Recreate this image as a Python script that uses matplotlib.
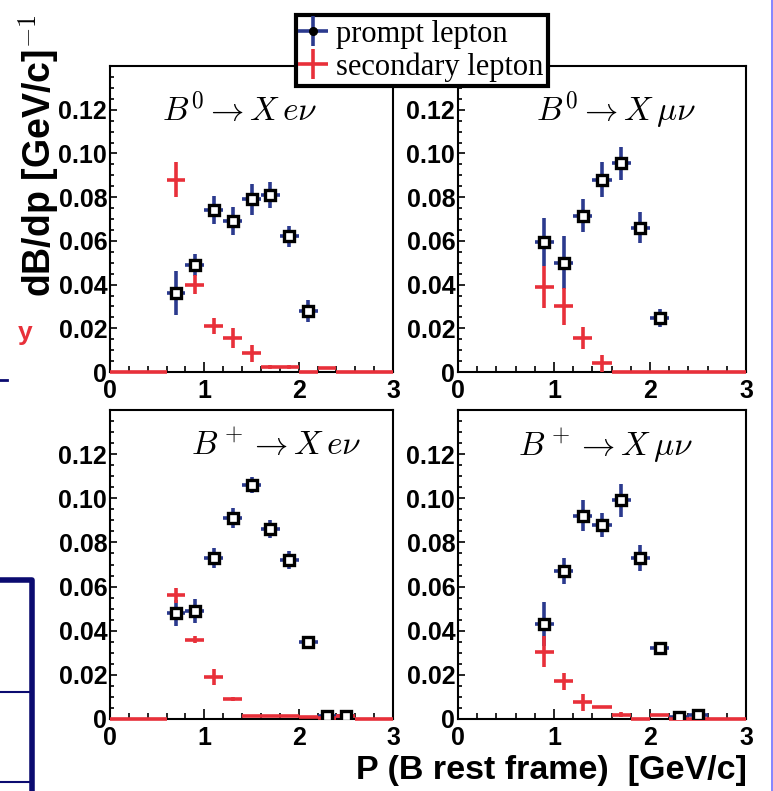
import matplotlib
matplotlib.use("Agg")
import matplotlib.pyplot as plt
from matplotlib.lines import Line2D
from matplotlib.legend_handler import HandlerTuple
from matplotlib.ticker import MultipleLocator

plt.rcParams["mathtext.fontset"] = "cm"

# ---- data ----
titles = [r"$B^0 \rightarrow X\,e\nu$", r"$B^0 \rightarrow X\,\mu\nu$",
          r"$B^+ \rightarrow X\,e\nu$", r"$B^+ \rightarrow X\,\mu\nu$"]

# B0 -> X e nu
p1_x = [0.7, 0.9, 1.1, 1.3, 1.5, 1.7, 1.9, 2.1]
p1_y = [0.036, 0.049, 0.074, 0.069, 0.079, 0.081, 0.062, 0.028]
p1_e = [0.010, 0.005, 0.0065, 0.0065, 0.007, 0.006, 0.005, 0.005]
s1_x = [0.3, 0.7, 0.9, 1.1, 1.3, 1.5, 1.7, 1.9, 2.1, 2.3, 2.7]
s1_w = [0.3, 0.1, 0.1, 0.1, 0.1, 0.1, 0.1, 0.1, 0.1, 0.1, 0.3]
s1_y = [0.0, 0.088, 0.040, 0.021, 0.0155, 0.0085, 0.0022, 0.0022, 0.0, 0.0018, 0.0]
s1_e = [0.0, 0.008, 0.0045, 0.0035, 0.0045, 0.004, 0.001, 0.001, 0.0, 0.0005, 0.0]

# B0 -> X mu nu
p2_x = [0.9, 1.1, 1.3, 1.5, 1.7, 1.9, 2.1]
p2_y = [0.0595, 0.050, 0.0715, 0.088, 0.0955, 0.066, 0.0248]
p2_e = [0.011, 0.012, 0.0075, 0.008, 0.0075, 0.007, 0.004]
s2_x = [0.9, 1.1, 1.3, 1.5, 2.3]
s2_w = [0.1, 0.1, 0.1, 0.1, 0.7]
s2_y = [0.039, 0.030, 0.0155, 0.004, 0.0]
s2_e = [0.0095, 0.0085, 0.005, 0.004, 0.0]

# B+ -> X e nu
p3_x = [0.7, 0.9, 1.1, 1.3, 1.5, 1.7, 1.9, 2.1, 2.3, 2.5]
p3_y = [0.048, 0.049, 0.073, 0.091, 0.106, 0.086, 0.072, 0.035, 0.0015, 0.0015]
p3_e = [0.006, 0.0055, 0.0045, 0.0045, 0.0035, 0.004, 0.004, 0.0025, 0.0005, 0.0005]
s3_x = [0.3, 0.7, 0.9, 1.1, 1.3, 1.5, 1.7, 1.9, 2.1, 2.3, 2.5, 2.8]
s3_w = [0.3, 0.1, 0.1, 0.1, 0.1, 0.1, 0.1, 0.1, 0.1, 0.1, 0.1, 0.2]
s3_y = [0.0, 0.056, 0.036, 0.019, 0.009, 0.0015, 0.0015, 0.0015, 0.0008, 0.0003, 0.0012, 0.0]
s3_e = [0.0, 0.0035, 0.0015, 0.0035, 0.001, 0.0, 0.0, 0.0, 0.0, 0.0, 0.0, 0.0]

# B+ -> X mu nu
p4_x = [0.9, 1.1, 1.3, 1.5, 1.7, 1.9, 2.1, 2.3, 2.5]
p4_y = [0.043, 0.067, 0.092, 0.088, 0.099, 0.073, 0.032, 0.001, 0.0017]
p4_e = [0.010, 0.006, 0.007, 0.0055, 0.0075, 0.006, 0.0025, 0.0005, 0.0005]
s4_x = [0.9, 1.1, 1.3, 1.5, 1.7, 1.9, 2.1, 2.6]
s4_w = [0.1, 0.1, 0.1, 0.1, 0.1, 0.1, 0.1, 0.4]
s4_y = [0.0305, 0.017, 0.0075, 0.0055, 0.002, 0.0, 0.002, 0.0]
s4_e = [0.007, 0.004, 0.004, 0.0, 0.001, 0.0, 0.0, 0.0]

prompt = [(p1_x, p1_y, p1_e), (p2_x, p2_y, p2_e), (p3_x, p3_y, p3_e), (p4_x, p4_y, p4_e)]
second = [(s1_x, s1_w, s1_y, s1_e), (s2_x, s2_w, s2_y, s2_e),
          (s3_x, s3_w, s3_y, s3_e), (s4_x, s4_w, s4_y, s4_e)]
ytick_vals = [0, 0.02, 0.04, 0.06, 0.08, 0.10, 0.12]
ytick_labels = ["0", "0.02", "0.04", "0.06", "0.08", "0.10", "0.12"]
xtick_vals = [0, 1, 2, 3]

BLUE = "#2b3a8e"
RED = "#e8303a"
NAVY = "#0b0b70"
W, H = 773, 791

fig = plt.figure(figsize=(W / 100, H / 100), dpi=100)

# axes boxes in pixels: left, top, right, bottom
boxes = [(110, 66, 393, 372), (458, 66, 746, 372),
         (110, 410, 393, 719), (458, 410, 746, 719)]
title_pos = [(0.46, 0.855), (0.55, 0.855), (0.587, 0.885), (0.51, 0.885)]

tick_font = {"family": "Liberation Sans", "weight": "bold", "size": 18}
handles = None
for i, (l, t, r, b) in enumerate(boxes):
    ax = fig.add_axes([l / W, 1 - b / H, (r - l) / W, (b - t) / H])
    ax.set_xlim(0, 3)
    ax.set_ylim(0, 0.14)
    px, py, pe = prompt[i]
    sx, sw, sy, se = second[i]
    eb_p = ax.errorbar(px, py, yerr=pe, xerr=0.1, fmt="none", ecolor=BLUE,
                       elinewidth=2.6, capsize=0, zorder=3)
    eb_s = ax.errorbar(sx, sy, yerr=se, xerr=sw, fmt="none", ecolor=RED,
                       elinewidth=2.6, capsize=0, zorder=4, clip_on=False)
    ax.plot(px, py, ls="none", marker="s", ms=6.5, mfc="white", mec="black",
            mew=2.4, zorder=5)
    ax.text(title_pos[i][0], title_pos[i][1], titles[i], transform=ax.transAxes,
            ha="center", va="center", fontsize=24, zorder=6)
    ax.set_xticks(xtick_vals)
    ax.set_xticklabels([str(v) for v in xtick_vals], fontdict=tick_font)
    ax.set_yticks(ytick_vals)
    ax.set_yticklabels(ytick_labels, fontdict=tick_font)
    ax.xaxis.set_minor_locator(MultipleLocator(0.2))
    ax.yaxis.set_minor_locator(MultipleLocator(0.005))
    ax.tick_params(which="both", direction="in", width=1.2, top=False, right=False)
    ax.tick_params(axis="x", which="major", length=7, pad=5)
    ax.tick_params(axis="x", which="minor", length=4.5)
    ax.tick_params(axis="y", which="major", length=5, pad=2)
    ax.tick_params(axis="y", which="minor", length=3)
    for sp in ax.spines.values():
        sp.set_linewidth(1.5)
    if i == 0:
        dot = Line2D([], [], ls="none", marker="o", ms=5.5, color="black")
        handles = [(eb_p, dot), eb_s]

leg = fig.legend(handles, ["prompt lepton", "secondary lepton"],
                 handler_map={tuple: HandlerTuple(ndivide=1)},
                 loc="upper left", bbox_to_anchor=(296 / W, 1 - 15 / H),
                 prop={"family": "Liberation Serif", "size": 22},
                 frameon=True, fancybox=False, framealpha=1, edgecolor="black",
                 borderpad=0.15, handlelength=0.8, handletextpad=0.35,
                 labelspacing=0.12, borderaxespad=0)
leg.get_frame().set_linewidth(3)

fig.text(39 / W, 1 - 297 / H, r"dB/dp [GeV/c]$^{-1}$", rotation=90,
         ha="center", va="bottom", fontsize=27, fontweight="bold",
         family="Liberation Sans")
fig.text(356 / W, 1 - 779 / H, "P (B rest frame)  [GeV/c]", ha="left",
         va="baseline", fontsize=24.5, fontweight="bold", family="Liberation Sans")

# stray marks from the surrounding page in the scan
fig.text(25 / W, 1 - 333 / H, "y", color=RED, ha="center", va="center",
         fontsize=19, fontweight="bold", family="Liberation Sans")
fig.add_artist(Line2D([0, 7 / W], [1 - 380 / H] * 2, color=NAVY, lw=2))
fig.add_artist(Line2D([0, 32 / W, 32 / W], [1 - 580 / H, 1 - 580 / H, 0],
                      color=NAVY, lw=4))
fig.add_artist(Line2D([0, 31 / W], [1 - 692 / H] * 2, color=NAVY, lw=1.5))
fig.add_artist(Line2D([0, 31 / W], [1 - 782 / H] * 2, color=NAVY, lw=1.5))
fig.add_artist(Line2D([771.5 / W] * 2, [1, 0], color="#7070ff", lw=1.2))

fig.savefig("out.png", dpi=100)
